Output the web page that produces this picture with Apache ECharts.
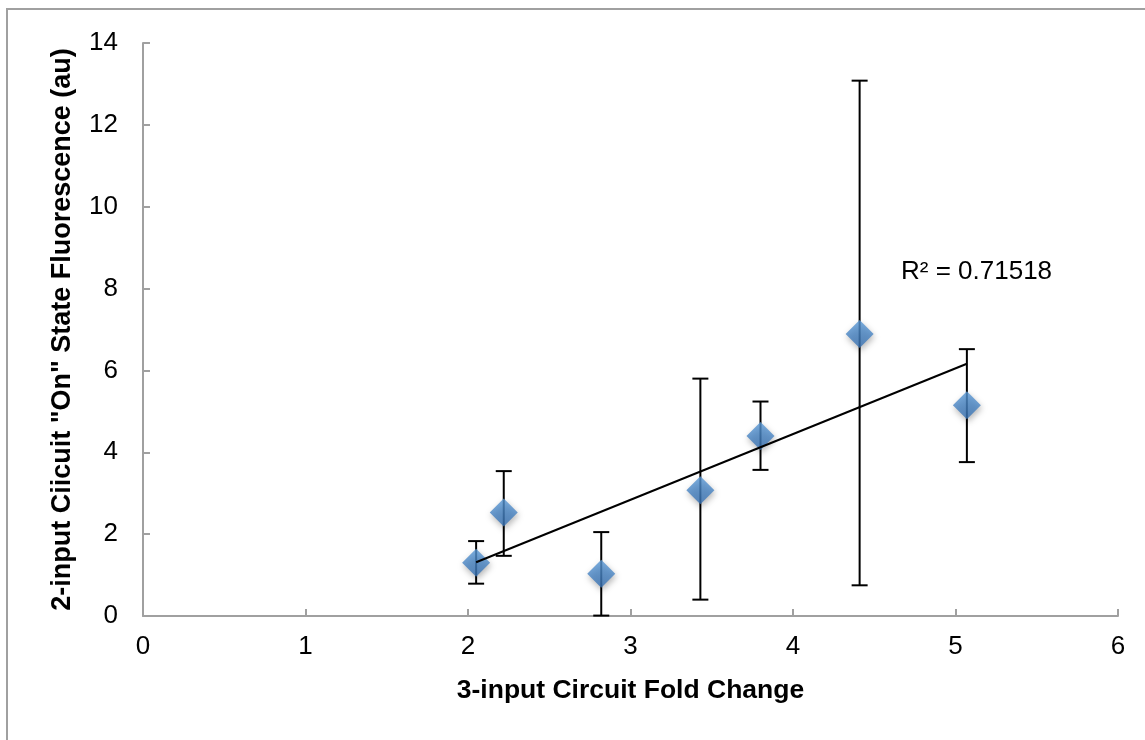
<!DOCTYPE html>
<html>
<head>
<meta charset="utf-8">
<script src="https://cdn.jsdelivr.net/npm/echarts@6/dist/echarts.min.js"></script>
<style>
  html, body { margin: 0; padding: 0; background: #fff; }
  #chart { width: 1145px; height: 740px; }
</style>
</head>
<body>
<div id="chart"></div>
<script>
// values
const foldChange = [2.05, 2.22, 2.82, 3.43, 3.80, 4.41, 5.07];
const fluorescence = [1.30, 2.53, 1.03, 3.07, 4.40, 6.89, 5.15];
const errLow = [0.79, 1.47, 0.01, 0.40, 3.57, 0.75, 3.76];
const errHigh = [1.83, 3.54, 2.05, 5.80, 5.24, 13.08, 6.52];
const xTicks = [0, 1, 2, 3, 4, 5, 6];
const yTicks = [0, 2, 4, 6, 8, 10, 12, 14];
const r2Label = 'R² = 0.71518';

const FONT = '"Liberation Sans", Arial, sans-serif';
const AXIS_GRAY = '#a0a0a0';

// least squares trend line through the points
const n = foldChange.length;
const mx = foldChange.reduce((a, b) => a + b, 0) / n;
const my = fluorescence.reduce((a, b) => a + b, 0) / n;
let sxy = 0, sxx = 0;
for (let i = 0; i < n; i++) {
  sxy += (foldChange[i] - mx) * (fluorescence[i] - my);
  sxx += (foldChange[i] - mx) * (foldChange[i] - mx);
}
const slope = sxy / sxx;
const intercept = my - slope * mx;
const xMin = Math.min(...foldChange);
const xMax = Math.max(...foldChange);
const trend = [[xMin, intercept + slope * xMin], [xMax, intercept + slope * xMax]];

const points = foldChange.map((x, i) => [x, fluorescence[i]]);
const bars = foldChange.map((x, i) => [x, errLow[i], errHigh[i]]);

const chart = echarts.init(document.getElementById('chart'));

const option = {
  animation: false,
  backgroundColor: '#fff',
  textStyle: { fontFamily: FONT },
  grid: { left: 143, right: 27, top: 43, bottom: 124 },
  xAxis: {
    type: 'value',
    min: xTicks[0],
    max: xTicks[xTicks.length - 1],
    interval: 1,
    name: '3-input Circuit Fold Change',
    nameLocation: 'middle',
    nameGap: 61,
    nameTextStyle: { fontFamily: FONT, fontSize: 26.5, fontWeight: 'bold', color: '#000' },
    axisLine: { lineStyle: { color: AXIS_GRAY, width: 2 } },
    axisTick: { inside: true, length: 7, lineStyle: { color: AXIS_GRAY, width: 2 } },
    axisLabel: { fontFamily: FONT, fontSize: 26, color: '#000', margin: 18 },
    splitLine: { show: false }
  },
  yAxis: {
    type: 'value',
    min: yTicks[0],
    max: yTicks[yTicks.length - 1],
    interval: 2,
    name: '2-input Ciicuit "On" State Fluorescence (au)',
    nameLocation: 'middle',
    nameGap: 67,
    nameTextStyle: { fontFamily: FONT, fontSize: 27, fontWeight: 'bold', color: '#000' },
    axisLine: { show: true, lineStyle: { color: AXIS_GRAY, width: 2 } },
    axisTick: { show: true, inside: true, length: 7, lineStyle: { color: AXIS_GRAY, width: 2 } },
    axisLabel: { fontFamily: FONT, fontSize: 26, color: '#000', margin: 25 },
    splitLine: { show: false }
  },
  graphic: [
    {
      type: 'rect',
      shape: { x: 7, y: 9, width: 1400, height: 900 },
      style: { fill: 'none', stroke: AXIS_GRAY, lineWidth: 2 },
      silent: true,
      z: -10
    },
    {
      type: 'text',
      left: 901,
      top: 259,
      style: { text: r2Label, font: '26px ' + FONT, fill: '#000' },
      z: 100
    }
  ],
  series: [
    {
      type: 'custom',
      z: 1,
      data: bars,
      renderItem: function (params, api) {
        const x = api.value(0);
        const lo = api.coord([x, api.value(1)]);
        const hi = api.coord([x, api.value(2)]);
        const cap = 8;
        const style = { stroke: '#000', lineWidth: 2 };
        return {
          type: 'group',
          children: [
            { type: 'line', shape: { x1: lo[0], y1: lo[1], x2: hi[0], y2: hi[1] }, style: style },
            { type: 'line', shape: { x1: lo[0] - cap, y1: lo[1], x2: lo[0] + cap, y2: lo[1] }, style: style },
            { type: 'line', shape: { x1: hi[0] - cap, y1: hi[1], x2: hi[0] + cap, y2: hi[1] }, style: style }
          ]
        };
      }
    },
    {
      type: 'scatter',
      z: 2,
      symbol: 'diamond',
      symbolSize: 28,
      data: points,
      itemStyle: {
        color: new echarts.graphic.LinearGradient(0, 0, 0, 1, [
          { offset: 0, color: '#5a99d6' },
          { offset: 1, color: '#3771b3' }
        ]),
        shadowBlur: 6,
        shadowOffsetX: 1,
        shadowOffsetY: 3,
        shadowColor: 'rgba(0,0,0,0.35)'
      }
    },
    {
      type: 'line',
      z: 3,
      data: trend,
      showSymbol: false,
      lineStyle: { color: '#000', width: 2 }
    }
  ]
};

chart.setOption(option);
</script>
</body>
</html>
